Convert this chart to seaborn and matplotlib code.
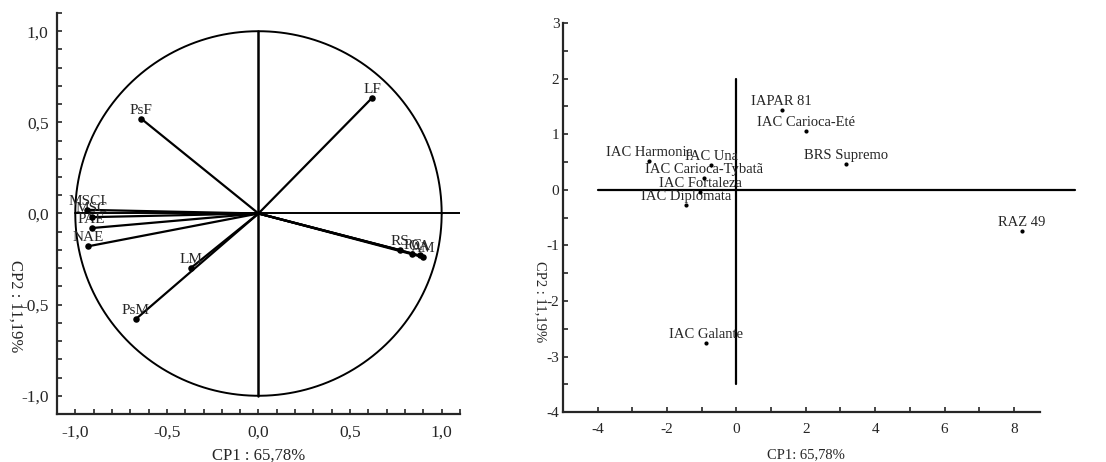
import numpy as np
import pandas as pd
import matplotlib
matplotlib.use("Agg")
import matplotlib.pyplot as plt
from matplotlib.ticker import MultipleLocator, FuncFormatter
import seaborn as sns

# Correlações das variáveis com CP1 e CP2
var_names = ["LF", "PsF", "MSCI", "MSC", "PAE", "NAE", "LM", "PsM", "RS", "PC", "OA", "AM"]
var_cp1 = [0.62, -0.64, -0.935, -0.91, -0.91, -0.93, -0.37, -0.67, 0.77, 0.84, 0.88, 0.90]
var_cp2 = [0.634, 0.52, 0.02, -0.02, -0.08, -0.18, -0.30, -0.58, -0.20, -0.22, -0.23, -0.24]

# Escores das cultivares
cult_names = ["IAPAR 81", "IAC Carioca-Eté", "BRS Supremo", "RAZ 49", "IAC Harmonia",
              "IAC Una", "IAC Carioca-Tybatã", "IAC Fortaleza", "IAC Diplomata", "IAC Galante"]
cult_cp1 = [1.30, 2.02, 3.17, 8.22, -2.51, -0.72, -0.92, -1.04, -1.44, -0.87]
cult_cp2 = [1.43, 1.05, 0.46, -0.74, 0.52, 0.44, 0.22, -0.04, -0.28, -2.76]

df_var = pd.DataFrame({"nome": var_names, "cp1": var_cp1, "cp2": var_cp2})
df_cult = pd.DataFrame({"nome": cult_names, "cp1": cult_cp1, "cp2": cult_cp2})

sns.set_style("ticks")
plt.rcParams["font.family"] = ["Liberation Serif", "DejaVu Serif"]
plt.rcParams["axes.unicode_minus"] = False

virgula = FuncFormatter(lambda v, p: f"{v:.1f}".replace(".", ","))

fig = plt.figure(figsize=(11.06, 4.62), dpi=100)
ax1 = fig.add_axes([0.0515, 0.1039, 0.3644, 0.868])
ax2 = fig.add_axes([0.509, 0.108, 0.4313, 0.842])

# --- Círculo de correlações ---
t = np.linspace(0, 2 * np.pi, 400)
ax1.plot(np.cos(t), np.sin(t), color="black", lw=1.4)
ax1.plot([-1, 1.1], [0, 0], color="black", lw=1.4)
ax1.plot([0, 0], [-1, 1], color="black", lw=1.8)
for _, r in df_var.iterrows():
    ax1.plot([0, r.cp1], [0, r.cp2], color="black", lw=1.6)
sns.scatterplot(data=df_var, x="cp1", y="cp2", ax=ax1, color="black", s=22,
                edgecolor="black", linewidth=0, zorder=5)
for _, r in df_var.iterrows():
    ax1.annotate(r.nome, (r.cp1, r.cp2), xytext=(0, 1.5), textcoords="offset points",
                 ha="center", va="bottom", fontsize=11)
ax1.set_xlim(-1.1, 1.1)
ax1.set_ylim(-1.1, 1.1)
ax1.xaxis.set_major_locator(MultipleLocator(0.5))
ax1.yaxis.set_major_locator(MultipleLocator(0.5))
ax1.xaxis.set_minor_locator(MultipleLocator(0.1))
ax1.yaxis.set_minor_locator(MultipleLocator(0.1))
ax1.xaxis.set_major_formatter(virgula)
ax1.yaxis.set_major_formatter(virgula)
ax1.tick_params(which="both", direction="in", length=3.5, width=1.2, labelsize=12.5)
ax1.tick_params(axis="x", pad=8)
ax1.tick_params(axis="y", pad=6)
ax1.set_xlabel("CP1 : 65,78%", fontsize=12, va="center")
ax1.set_ylabel("CP2 : 11,19%", fontsize=12, rotation=270, va="center", ha="center")
ax1.xaxis.set_label_coords(0.5, -0.105)
ax1.yaxis.set_label_coords(-0.102, 0.269)

# --- Dispersão das cultivares ---
ax2.plot([-4, 9.75], [0, 0], color="black", lw=1.6, clip_on=False)
ax2.plot([0, 0], [-3.5, 2], color="black", lw=1.6)
sns.scatterplot(data=df_cult, x="cp1", y="cp2", ax=ax2, color="black", s=9,
                edgecolor="black", linewidth=0, zorder=5)
for _, r in df_cult.iterrows():
    ax2.annotate(r.nome, (r.cp1, r.cp2), xytext=(0, 1.5), textcoords="offset points",
                 ha="center", va="bottom", fontsize=10.5)
ax2.set_xlim(-5, 8.75)
ax2.set_ylim(-4, 3)
ax2.xaxis.set_major_locator(MultipleLocator(2))
ax2.xaxis.set_minor_locator(MultipleLocator(1))
ax2.yaxis.set_major_locator(MultipleLocator(1))
ax2.yaxis.set_minor_locator(MultipleLocator(0.5))
ax2.tick_params(which="both", direction="in", length=3.5, width=1.2, labelsize=11)
ax2.tick_params(axis="x", pad=8)
ax2.tick_params(axis="y", pad=2.5)
ax2.set_xlabel("CP1: 65,78%", fontsize=10.5, va="center")
ax2.set_ylabel("CP2 : 11,19%", fontsize=10.5, rotation=270, va="center", ha="center")
ax2.xaxis.set_label_coords(0.509, -0.11)
ax2.yaxis.set_label_coords(-0.048, 0.283)

for ax in (ax1, ax2):
    sns.despine(ax=ax)
    ax.spines["left"].set_linewidth(1.6)
    ax.spines["bottom"].set_linewidth(1.6)

fig.savefig("out.png", dpi=100)
